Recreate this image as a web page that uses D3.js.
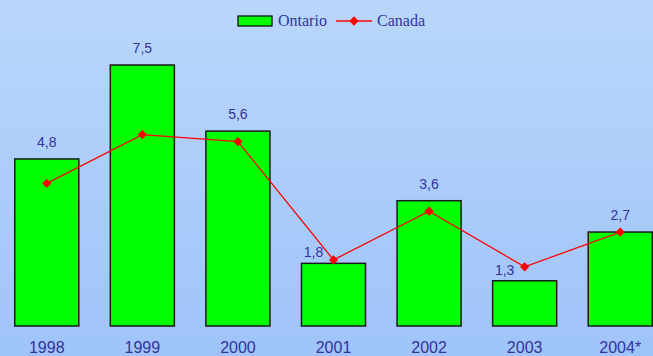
<!DOCTYPE html>
<html>
<head>
<meta charset="utf-8">
<script src="https://cdn.jsdelivr.net/npm/d3@7"></script>
<style>
  body { margin: 0; }
  svg { display: block; }
</style>
</head>
<body>
<div class="container"></div>
<script>
const years = ['1998', '1999', '2000', '2001', '2002', '2003', '2004*'];
const ontario = [4.8, 7.5, 5.6, 1.8, 3.6, 1.3, 2.7];
const canada = [4.1, 5.5, 5.3, 1.9, 3.3, 1.7, 2.7];
const seriesNames = ['Ontario', 'Canada'];

const width = 653;
const height = 356;
const textColor = '#33339a';

const svg = d3
  .select('.container')
  .append('svg')
  .attr('width', width)
  .attr('height', height);

// background gradient
const grad = svg
  .append('defs')
  .append('linearGradient')
  .attr('id', 'bg')
  .attr('x1', 0)
  .attr('y1', 0)
  .attr('x2', 0)
  .attr('y2', 1);
grad.append('stop').attr('offset', '0%').attr('stop-color', '#bad6fa');
grad.append('stop').attr('offset', '100%').attr('stop-color', '#9fc4fa');

svg
  .append('rect')
  .attr('width', width)
  .attr('height', height)
  .attr('fill', 'url(#bg)');

const x = d3
  .scaleBand()
  .domain(years)
  .range([-1.5, 668.5])
  .paddingInner(0.33)
  .paddingOuter(0.17);

const y = d3.scaleLinear().domain([0, 7.5]).range([326, 65]);

const data = years.map((yr, i) => ({ year: yr, on: ontario[i], ca: canada[i] }));

// bars
svg
  .selectAll('.bar')
  .data(data)
  .enter()
  .append('rect')
  .attr('class', 'bar')
  .attr('x', d => x(d.year))
  .attr('y', d => y(d.on))
  .attr('width', x.bandwidth())
  .attr('height', d => y(0) - y(d.on))
  .attr('fill', '#00ff00')
  .attr('stroke', '#1a1a1a')
  .attr('stroke-width', 1.5);

// value labels
svg
  .selectAll('.val')
  .data(data)
  .enter()
  .append('text')
  .attr('class', 'val')
  .attr('x', d => x(d.year) + x.bandwidth() / 2 - (d.ca > d.on ? 20 : 0))
  .attr('y', d => y(d.on) - (d.ca > d.on ? 6 : 12))
  .attr('text-anchor', 'middle')
  .attr('font-family', 'Arial, "Liberation Sans", sans-serif')
  .attr('font-size', 14)
  .attr('fill', textColor)
  .text(d => String(d.on).replace('.', ','));

// x axis labels
const xAxis = svg
  .append('g')
  .attr('transform', `translate(0, ${y(0)})`)
  .call(d3.axisBottom(x).tickSize(0).tickPadding(16));
xAxis.select('.domain').remove();
xAxis
  .selectAll('text')
  .attr('font-family', 'Arial, "Liberation Sans", sans-serif')
  .attr('font-size', 16)
  .attr('fill', textColor);

// Canada line
const line = d3
  .line()
  .x(d => x(d.year) + x.bandwidth() / 2)
  .y(d => y(d.ca));

svg
  .append('path')
  .datum(data)
  .attr('d', line)
  .attr('fill', 'none')
  .attr('stroke', '#ff0000')
  .attr('stroke-width', 1.3);

const diamond = d3.symbol().type(d3.symbolDiamond2).size(55);

svg
  .selectAll('.pt')
  .data(data)
  .enter()
  .append('path')
  .attr('class', 'pt')
  .attr('d', diamond)
  .attr('transform', d => `translate(${x(d.year) + x.bandwidth() / 2}, ${y(d.ca)})`)
  .attr('fill', '#ff0000');

// legend
const legend = svg.append('g').attr('transform', 'translate(238, 16)');
legend
  .append('rect')
  .attr('width', 34)
  .attr('height', 10)
  .attr('fill', '#00ff00')
  .attr('stroke', '#000')
  .attr('stroke-width', 1.2);
legend
  .append('text')
  .attr('x', 40)
  .attr('y', 10)
  .attr('font-family', '"Liberation Serif", "Times New Roman", serif')
  .attr('font-size', 16)
  .attr('fill', textColor)
  .text(seriesNames[0]);
legend
  .append('line')
  .attr('x1', 98)
  .attr('x2', 134)
  .attr('y1', 5)
  .attr('y2', 5)
  .attr('stroke', '#ff0000')
  .attr('stroke-width', 1.3);
legend
  .append('path')
  .attr('d', diamond)
  .attr('transform', 'translate(116, 5)')
  .attr('fill', '#ff0000');
legend
  .append('text')
  .attr('x', 139)
  .attr('y', 10)
  .attr('font-family', '"Liberation Serif", "Times New Roman", serif')
  .attr('font-size', 16)
  .attr('fill', textColor)
  .text(seriesNames[1]);
</script>
</body>
</html>
